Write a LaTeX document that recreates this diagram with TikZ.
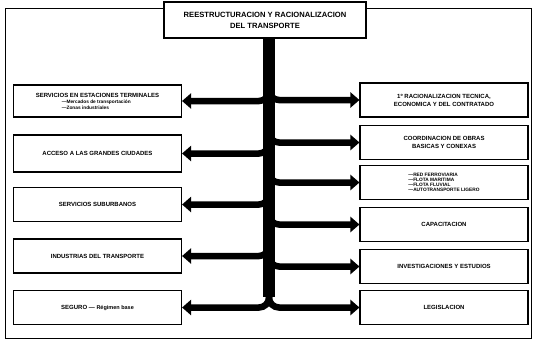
\documentclass[tikz,border=0pt]{standalone}
\usepackage{fontspec}
\setmainfont{Liberation Sans}
\usetikzlibrary{arrows.meta}
\newcommand{\itemfont}{\fontsize{4.8}{6}\selectfont\bfseries}

\begin{document}
\begin{tikzpicture}[x=1pt, y=-1pt,
  font=\fontsize{6}{8}\selectfont\bfseries,
  box/.style={draw, line width=1.1pt, align=center, inner sep=2pt,
    minimum width=168pt, minimum height=34pt},
  head/.style={draw, line width=1.3pt, align=center, inner sep=2pt,
    minimum width=202pt, minimum height=36pt,
    font=\fontsize{7.6}{11}\selectfont\bfseries},
  spine/.style={line width=12pt},
  br/.style={line width=6.5pt, rounded corners=10pt,
    -{Triangle[length=9pt, width=15pt]}}]
\useasboundingbox (0,0) rectangle (534,345);
\fill[white] (0,0) rectangle (534,345);
\draw[line width=0.9pt] (5,8) rectangle (531,338);
\node[head, fill=white] (title) at (265,20)
  {REESTRUCTURACION Y RACIONALIZACION\\DEL TRANSPORTE};
% left column
\node[box, minimum height=32pt, align=left] (l1) at (97.5,101)
  {SERVICIOS EN ESTACIONES TERMINALES\\[-1.5pt]
   \hspace*{26pt}{\itemfont ---Mercados de transportación}\\[-2.5pt]
   \hspace*{26pt}{\itemfont ---Zonas industriales}};
\node[box, minimum height=37pt] (l2) at (97.5,153.5) {ACCESO A LAS GRANDES CIUDADES};
\node[box] (l3) at (97.5,204.5) {SERVICIOS SUBURBANOS};
\node[box] (l4) at (97.5,256) {INDUSTRIAS DEL TRANSPORTE};
\node[box] (l5) at (97.5,307.5) {SEGURO --- {\fontsize{5.5}{6}\selectfont Régimen base}};
% right column
\node[box] (r1) at (444,100) {1º RACIONALIZACION TECNICA,\\ECONOMICA Y DEL CONTRATADO};
\node[box] (r2) at (444,142.5) {COORDINACION DE OBRAS\\BASICAS Y CONEXAS};
\node[box, align=left, font=\itemfont] (r3) at (444,182.5)
  {---RED FERROVIARIA\\[-1pt] ---FLOTA MARITIMA\\[-1pt] ---FLOTA FLUVIAL\\[-1pt] ---AUTOTRANSPORTE LIGERO};
\node[box] (r4) at (444,224.5) {CAPACITACION};
\node[box] (r5) at (444,266.5) {INVESTIGACIONES Y ESTUDIOS};
\node[box] (r6) at (444,307.5) {LEGISLACION};
% trunk and branches
\coordinate (top) at (269,38);
\coordinate (bot) at (269,297);
\draw[spine] (title.south -| top) -- (bot);
\foreach \n in {l1,l2,l3,l4,l5}
  \draw[br] ([yshift=14pt]top |- \n.east) |- (\n.east);
\foreach \n in {r1,r2,r3,r4,r5,r6}
  \draw[br] ([yshift=14pt]top |- \n.west) |- (\n.west);
\end{tikzpicture}
\end{document}
